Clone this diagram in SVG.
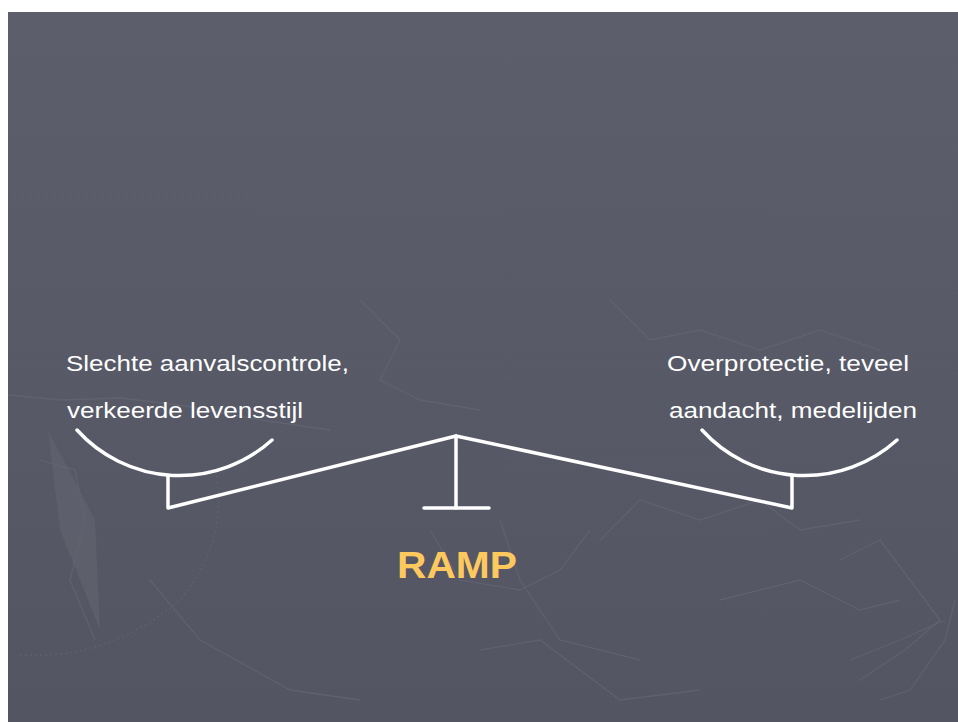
<svg xmlns="http://www.w3.org/2000/svg" width="958" height="722" viewBox="0 0 958 722">
  <defs>
    <linearGradient id="bg" x1="0" y1="0" x2="0" y2="1">
      <stop offset="0" stop-color="#5c5e6c"/>
      <stop offset="1" stop-color="#535563"/>
    </linearGradient>
    <style>
      .lbl { font-family: "Liberation Sans", Arial, sans-serif; font-size: 22px; fill: #ffffff; }
      .title { font-family: "Liberation Sans", Arial, sans-serif; font-size: 37px; font-weight: bold; fill: #fdc95e; }
      .bar { fill: none; stroke: #ffffff; stroke-width: 3.5; stroke-linecap: round; stroke-linejoin: round; }
      .map { fill: none; stroke: #676978; stroke-width: 1.3; stroke-opacity: 0.55; }
    </style>
  </defs>
  <rect x="0" y="0" width="958" height="722" fill="#ffffff"/>
  <rect x="8" y="12" width="950" height="710" fill="url(#bg)"/>

  <g id="background-map">
    <polyline class="map" points="8,395 60,400 120,398 180,405 260,420 330,430"/>
    <polyline class="map" points="40,460 75,470 85,520 70,580 95,640"/>
    <polyline class="map" points="150,580 200,640 290,690 360,700"/>
    <polyline class="map" points="500,520 520,580 560,640 640,660"/>
    <polyline class="map" points="600,540 640,500 700,520 760,500 800,530 860,520"/>
    <polyline class="map" points="840,560 880,540 940,620 905,650 860,680"/>
    <polyline class="map" points="850,660 900,640 945,620"/>
    <polyline class="map" points="880,700 910,690 945,640 955,600"/>
    <polyline class="map" points="720,600 800,580 860,610 900,600"/>
    <polyline class="map" points="430,530 460,580 520,590 560,570 590,530"/>
    <polyline class="map" points="610,300 650,340 700,330 760,350 820,330 880,350"/>
    <polyline class="map" points="360,300 400,340 380,380 420,400 480,410"/>
    <polyline class="map" points="480,650 540,640 620,700 700,690"/>
    <path class="map" d="M20,655 Q110,660 180,600 Q230,540 215,470" stroke-dasharray="2 3" stroke-width="4"/>
    <polygon points="48,430 95,520 100,630 60,530" fill="#62646f" opacity="0.6"/>
  </g>

  <g id="connectors">
    <polyline class="bar" points="168,476 168,508 456,436 792,508 792,476"/>
    <line class="bar" x1="456" y1="436" x2="456" y2="508"/>
    <line class="bar" x1="424" y1="508" x2="489" y2="508"/>
  </g>

  <g id="left-pan">
    <path class="bar" d="M77,430 A138,138 0 0 0 272,440"/>
    <text class="lbl" x="66" y="371" textLength="283" lengthAdjust="spacingAndGlyphs">Slechte aanvalscontrole,</text>
    <text class="lbl" x="67" y="418" textLength="236" lengthAdjust="spacingAndGlyphs">verkeerde levensstijl</text>
  </g>

  <g id="right-pan">
    <path class="bar" d="M702,430 A138,138 0 0 0 897,440"/>
    <text class="lbl" x="667" y="371" textLength="242" lengthAdjust="spacingAndGlyphs">Overprotectie, teveel</text>
    <text class="lbl" x="669" y="418" textLength="248" lengthAdjust="spacingAndGlyphs">aandacht, medelijden</text>
  </g>

  <g id="ramp">
    <text class="title" x="397" y="578" textLength="120" lengthAdjust="spacingAndGlyphs">RAMP</text>
  </g>
</svg>
